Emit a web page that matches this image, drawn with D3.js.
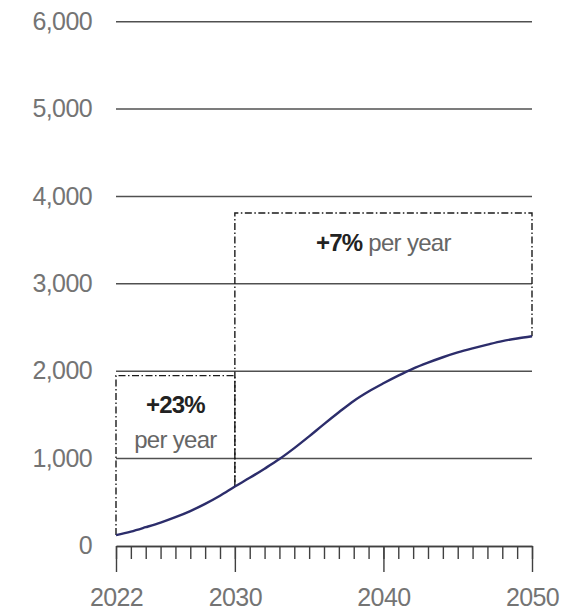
<!DOCTYPE html>
<html lang="en">
<head>
  <meta charset="UTF-8">
  <title>Growth chart</title>
  <script src="https://d3js.org/d3.v7.min.js"></script>
  <style>
    body { margin: 0; background: #fff; }
    text { font-family: "Liberation Sans", Arial, sans-serif; }
  </style>
</head>
<body>
  <div id="my_dataviz"></div>
  <script>

    // data
    var years = d3.range(2022, 2051);
    var values = [125, 165, 215, 268, 330, 400, 482, 575, 680,
      780, 885, 995, 1120, 1255, 1395, 1530, 1660, 1768, 1862,
      1950, 2030, 2098, 2160, 2215, 2262, 2305, 2345, 2375, 2400];
    var yTicks = [0, 1000, 2000, 3000, 4000, 5000, 6000];
    var xLabels = [2022, 2030, 2040, 2050];

    // growth annotations: span of years, top of box, text
    var boxStarts = [2022, 2030];
    var boxEnds = [2030, 2050];
    var boxTops = [1950, 3810];
    var boxBold = ["+23%", "+7%"];
    var boxRest = ["per year", " per year"];

    var width = 571, height = 614;

    var svg = d3.select("#my_dataviz")
      .append("svg")
      .attr("width", width)
      .attr("height", height);

    var x = d3.scaleLinear().domain([2022, 2050]).range([116, 532]);
    var y = d3.scaleLinear().domain([0, 6000]).range([546, 21.7]);

    // gridlines (not at zero, the axis line sits there)
    svg.append("g")
      .selectAll("line")
      .data(yTicks.filter(function (d) { return d > 0; }))
      .enter()
      .append("line")
      .attr("x1", x(2022))
      .attr("x2", x(2050))
      .attr("y1", function (d) { return y(d); })
      .attr("y2", function (d) { return y(d); })
      .attr("stroke", "#505050")
      .attr("stroke-width", 1.5);

    // y labels
    svg.append("g")
      .selectAll("text")
      .data(yTicks)
      .enter()
      .append("text")
      .attr("x", 92)
      .attr("y", function (d) { return y(d); })
      .attr("dy", "0.33em")
      .attr("text-anchor", "end")
      .attr("font-size", 25)
      .attr("letter-spacing", -0.6)
      .attr("fill", "#747474")
      .text(function (d) { return d3.format(",")(d); });

    // x axis: minor ticks each year
    svg.append("g")
      .attr("transform", "translate(0," + y(0) + ")")
      .call(d3.axisBottom(x).tickValues(years).tickSize(13).tickSizeOuter(0).tickFormat(""));

    // major ticks with labels
    var majorAxis = svg.append("g")
      .attr("transform", "translate(0," + y(0) + ")")
      .call(d3.axisBottom(x).tickValues(xLabels).tickSize(26).tickSizeOuter(0)
        .tickPadding(16).tickFormat(d3.format("d")));

    svg.selectAll(".domain, .tick line")
      .attr("stroke", "#404040")
      .attr("stroke-width", 1.4);
    majorAxis.selectAll("text")
      .attr("font-size", 25)
      .attr("letter-spacing", -0.6)
      .attr("fill", "#747474")
      .attr("font-family", "Liberation Sans, Arial, sans-serif");

    // value at a given year
    function valueAt(yr) { return values[years.indexOf(yr)]; }

    // dash-dot boxes
    var boxes = svg.append("g");
    boxStarts.forEach(function (s, i) {
      var e = boxEnds[i], t = boxTops[i];
      boxes.append("path")
        .attr("d", "M" + x(s) + "," + y(valueAt(s)) +
          "V" + y(t) + "H" + x(e) + "V" + y(valueAt(e)))
        .attr("fill", "none")
        .attr("stroke", "#1a1a1a")
        .attr("stroke-width", 1.4)
        .attr("stroke-dasharray", "7,2.5,1.5,2.5");
    });

    // the curve
    var line = d3.line()
      .x(function (d, i) { return x(years[i]); })
      .y(function (d) { return y(d); })
      .curve(d3.curveMonotoneX);

    svg.append("path")
      .datum(values)
      .attr("d", line)
      .attr("fill", "none")
      .attr("stroke", "#2c2d6b")
      .attr("stroke-width", 2.4);

    // annotation text
    var t1 = svg.append("text")
      .attr("text-anchor", "middle")
      .attr("font-size", 24);
    t1.append("tspan")
      .attr("x", x(2026)).attr("y", 413)
      .attr("font-weight", "bold").attr("fill", "#222")
      .attr("letter-spacing", -0.8)
      .text(boxBold[0]);
    t1.append("tspan")
      .attr("x", x(2026)).attr("y", 448)
      .attr("fill", "#666")
      .attr("letter-spacing", -0.7)
      .text(boxRest[0]);

    var t2 = svg.append("text")
      .attr("x", x(2040))
      .attr("y", 251)
      .attr("text-anchor", "middle")
      .attr("font-size", 24);
    t2.append("tspan")
      .attr("font-weight", "bold").attr("fill", "#222")
      .attr("letter-spacing", -0.8)
      .text(boxBold[1]);
    t2.append("tspan")
      .attr("fill", "#666")
      .attr("letter-spacing", -0.7)
      .text(boxRest[1]);

  </script>
</body>
</html>
